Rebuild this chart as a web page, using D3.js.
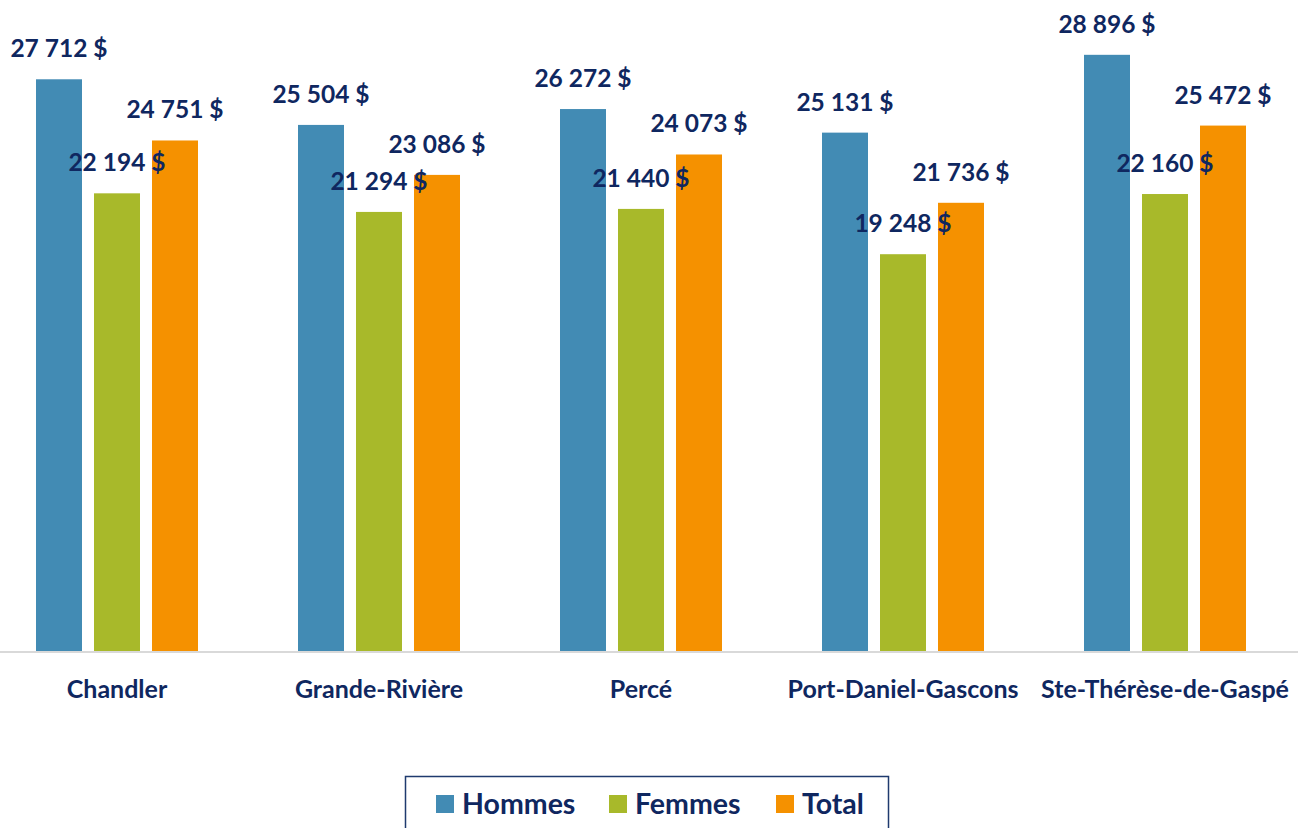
<!DOCTYPE html>
<html>
<head>
<meta charset="utf-8">
<script src="https://cdn.jsdelivr.net/npm/d3@7"></script>
<style>
  body { margin: 0; background: #fff; }
  svg { display: block; font-family: Lato, "Open Sans", sans-serif; }
</style>
</head>
<body>
<svg id="chart"></svg>
<script>
// Data
const categories = ["Chandler", "Grande-Rivière", "Percé", "Port-Daniel-Gascons", "Ste-Thérèse-de-Gaspé"];
const seriesNames = ["Hommes", "Femmes", "Total"];
const hommes = [27712, 25504, 26272, 25131, 28896];
const femmes = [22194, 21294, 21440, 19248, 22160];
const total = [24751, 23086, 24073, 21736, 25472];
const seriesValues = [hommes, femmes, total];
const colors = ["#428bb4", "#a8b92a", "#f59100"];

const width = 1298;
const height = 828;
const textColor = "#0f2760";

const svg = d3.select("#chart")
  .attr("width", width)
  .attr("height", height);

// Scales
const x0 = d3.scaleBand()
  .domain(categories)
  .range([-14, 1296]);

const x1 = d3.scaleBand()
  .domain(seriesNames)
  .range([50, 212])
  .paddingInner(0.207);

const y = d3.scaleLinear()
  .domain([0, 30000])
  .range([652, 32]);

const fmt = v => d3.format(",")(v).replace(",", " ") + " $";

// Bars
const groups = svg.selectAll(".group")
  .data(categories)
  .enter()
  .append("g")
  .attr("class", "group")
  .attr("transform", d => `translate(${x0(d)},0)`);

groups.selectAll("rect")
  .data((d, i) => seriesNames.map((s, j) => ({ series: s, value: seriesValues[j][i], color: colors[j] })))
  .enter()
  .append("rect")
  .attr("x", d => x1(d.series))
  .attr("y", d => y(d.value))
  .attr("width", x1.bandwidth())
  .attr("height", d => y(0) - y(d.value))
  .attr("fill", d => d.color);

// Value labels
groups.selectAll("text.value")
  .data((d, i) => seriesNames.map((s, j) => ({ series: s, value: seriesValues[j][i] })))
  .enter()
  .append("text")
  .attr("class", "value")
  .attr("x", d => x1(d.series) + x1.bandwidth() / 2)
  .attr("y", d => y(d.value) - 22)
  .attr("text-anchor", "middle")
  .attr("font-size", 24.5)
  .attr("font-weight", "bold")
  .attr("fill", textColor)
  .text(d => fmt(d.value));

// X axis
const xAxis = svg.append("g")
  .attr("transform", `translate(0,${y(0)})`)
  .call(d3.axisBottom(x0).tickSize(0).tickPadding(28));

xAxis.select(".domain")
  .attr("stroke", "#d9d9d9")
  .attr("stroke-width", 2)
  .attr("d", `M0,0H${width}`);

xAxis.selectAll("text")
  .attr("font-family", "Lato, 'Open Sans', sans-serif")
  .attr("font-size", 25)
  .attr("font-weight", "bold")
  .attr("fill", textColor);

// Legend
const legend = svg.append("g");
legend.append("rect")
  .attr("x", 405.5)
  .attr("y", 776.5)
  .attr("width", 483)
  .attr("height", 60)
  .attr("fill", "none")
  .attr("stroke", "#1f3a6e")
  .attr("stroke-width", 1.5);

const legendX = [436, 609, 776];
seriesNames.forEach((s, i) => {
  legend.append("rect")
    .attr("x", legendX[i])
    .attr("y", 795)
    .attr("width", 18)
    .attr("height", 18)
    .attr("fill", colors[i]);
  legend.append("text")
    .attr("x", legendX[i] + 26)
    .attr("y", 814)
    .attr("font-size", 28.5)
    .attr("font-weight", "bold")
    .attr("fill", textColor)
    .text(s);
});
</script>
</body>
</html>
